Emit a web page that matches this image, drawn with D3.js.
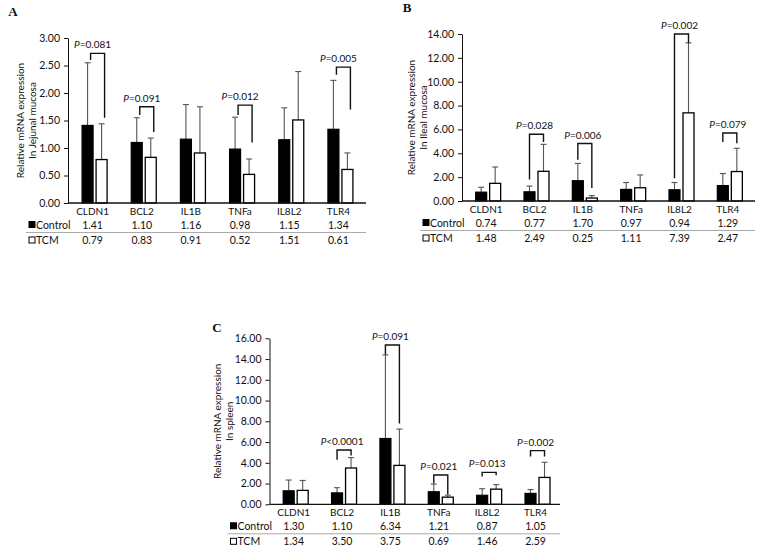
<!DOCTYPE html>
<html>
<head>
<meta charset="utf-8">
<script src="https://cdn.jsdelivr.net/npm/d3@7"></script>
<style>
    body { margin: 0; background: #fff; }
    svg text { font-family: Lato, "Open Sans", sans-serif; fill: #111; }
    .plabel { font-family: "Liberation Serif", serif; font-weight: bold; font-size: 13px; }
</style>
</head>
<body>
<svg id="fig" width="767" height="554"></svg>
<script>
/* global d3 */

var genes = ["CLDN1", "BCL2", "IL1B", "TNFa", "IL8L2", "TLR4"];

// jejunal mucosa (A)
var jejControl = [1.41, 1.10, 1.16, 0.98, 1.15, 1.34];
var jejTCM = [0.79, 0.83, 0.91, 0.52, 1.51, 0.61];
var jejControlSD = [1.14, 0.45, 0.63, 0.58, 0.58, 0.89];
var jejTCMSD = [0.65, 0.35, 0.84, 0.28, 0.88, 0.30];
var jejTicks = [0, 0.5, 1, 1.5, 2, 2.5, 3];
// [gene index, p text, top, left leg end, right leg end]
var jejP = [
    [0, "=0.081", 2.72, 2.60, 1.55],
    [1, "=0.091", 1.75, 1.60, 1.29],
    [3, "=0.012", 1.78, 1.60, 1.10],
    [5, "=0.005", 2.47, 2.33, 1.70]
];

// ileal mucosa (B)
var ileControl = [0.74, 0.77, 1.70, 0.97, 0.94, 1.29];
var ileTCM = [1.48, 2.49, 0.25, 1.11, 7.39, 2.47];
var ileControlSD = [0.41, 0.48, 1.45, 0.58, 0.61, 1.01];
var ileTCMSD = [1.37, 2.26, 0.20, 1.07, 5.86, 1.95];
var ileTicks = [0, 2, 4, 6, 8, 10, 12, 14];
var ileP = [
    [1, "=0.028", 5.60, 1.80, 4.95],
    [2, "=0.006", 4.82, 3.45, 1.10],
    [4, "=0.002", 14.0, 1.90, 13.25],
    [5, "=0.079", 5.70, 4.95, 4.85]
];

// spleen (C)
var splControl = [1.30, 1.10, 6.34, 1.21, 0.87, 1.05];
var splTCM = [1.34, 3.50, 3.75, 0.69, 1.46, 2.59];
var splControlSD = [1.04, 0.50, 8.06, 0.74, 0.63, 0.37];
var splTCMSD = [0.96, 1.00, 3.50, 0.19, 0.44, 1.46];
var splTicks = [0, 2, 4, 6, 8, 10, 12, 14, 16];
var splP = [
    [1, "<0.0001", 5.23, 4.30, 4.70],
    [2, "=0.091", 15.35, 14.45, 7.80],
    [3, "=0.021", 2.82, 2.00, 0.95],
    [4, "=0.013", 3.08, 2.67, 2.80],
    [5, "=0.002", 5.17, 4.60, 4.60]
];

var svg = d3.select("#fig");

function panel(cfg) {
    var g = svg.append("g");

    var x = d3.scaleBand().domain(genes).range([cfg.x0, cfg.x1]);
    var y = d3.scaleLinear().domain([0, cfg.ticks[cfg.ticks.length - 1]])
        .range([cfg.yBottom, cfg.yTop]);
    var bw = x.bandwidth();
    function cx(gene) { return x(gene) + bw / 2; }

    // panel letter
    g.append("text").attr("class", "plabel")
        .attr("x", cfg.labelX).attr("y", cfg.labelY)
        .attr("text-anchor", "middle").attr("dominant-baseline", "central")
        .text(cfg.label);

    // y axis
    var yAxis = g.append("g")
        .attr("transform", "translate(" + cfg.x0 + ",0)")
        .call(d3.axisLeft(y).tickValues(cfg.ticks).tickFormat(d3.format(".2f"))
            .tickSize(4).tickPadding(4).tickSizeOuter(0));
    yAxis.selectAll("text").style("font-size", "10.5px").style("font-family", "Lato, sans-serif");
    yAxis.selectAll("line, path").attr("stroke", "#111");

    // y title, two lines
    var ty = (cfg.yTop + cfg.yBottom) / 2;
    [["Relative mRNA expression", cfg.titleX[0]], [cfg.title2, cfg.titleX[1]]].forEach(function(t) {
        g.append("text")
            .attr("transform", "translate(" + (cfg.x0 + t[1]) + "," + ty + ") rotate(-90)")
            .attr("text-anchor", "middle")
            .style("font-size", "10px")
            .text(t[0]);
    });

    // bars
    var rows = genes.map(function(d, i) {
        return { gene: d, c: cfg.control[i], t: cfg.tcm[i], cs: cfg.controlSD[i], ts: cfg.tcmSD[i] };
    });

    var barW = 11;
    function ctrlX(d) { return cx(d.gene) - 10.5; }
    function tcmX(d) { return cx(d.gene) + 3.5; }

    // error bars first (drawn behind bars)
    var err = g.append("g").attr("stroke", "#555").attr("stroke-width", 1.1);
    rows.forEach(function(d) {
        [[ctrlX(d) + barW / 2, d.c, d.cs], [tcmX(d) + barW / 2, d.t, d.ts]].forEach(function(e) {
            err.append("line").attr("x1", e[0]).attr("x2", e[0])
                .attr("y1", y(e[1])).attr("y2", y(e[1] + e[2]));
            err.append("line").attr("x1", e[0] - 3).attr("x2", e[0] + 3)
                .attr("y1", y(e[1] + e[2])).attr("y2", y(e[1] + e[2]));
        });
    });

    g.selectAll(".bar-c").data(rows).enter().append("rect")
        .attr("x", ctrlX).attr("width", barW)
        .attr("y", function(d) { return y(d.c); })
        .attr("height", function(d) { return y(0) - y(d.c); })
        .attr("fill", "#000").attr("stroke", "#000").attr("stroke-width", 1.2);

    g.selectAll(".bar-t").data(rows).enter().append("rect")
        .attr("x", tcmX).attr("width", barW)
        .attr("y", function(d) { return y(d.t); })
        .attr("height", function(d) { return y(0) - y(d.t); })
        .attr("fill", "#fff").attr("stroke", "#000").attr("stroke-width", 1.3);

    // x axis line
    g.append("line").attr("x1", cfg.x0).attr("x2", cfg.axisEnd)
        .attr("y1", y(0)).attr("y2", y(0))
        .attr("stroke", "#111").attr("stroke-width", 1.3);

    // p-value brackets
    cfg.pvals.forEach(function(p) {
        var gene = genes[p[0]];
        var lx = cx(gene) - 5 + cfg.legShift;
        var rx = cx(gene) + 9 + cfg.legShift;
        g.append("path")
            .attr("d", "M" + lx + "," + y(p[3]) + "V" + y(p[2]) + "H" + rx + "V" + y(p[4]))
            .attr("fill", "none").attr("stroke", "#111").attr("stroke-width", 1.4);
        var t = g.append("text").attr("x", cx(gene)).attr("y", y(p[2]) - 5)
            .attr("text-anchor", "middle").style("font-size", "10px");
        t.append("tspan").style("font-style", "italic").text("P");
        t.append("tspan").text(p[1]);
    });

    // table under the axis
    var y0 = y(0);
    g.selectAll(".cat").data(genes).enter().append("text")
        .attr("x", cx).attr("y", y0 + 8)
        .attr("text-anchor", "middle").attr("dominant-baseline", "central")
        .style("font-size", "10px").text(function(d) { return d; });

    [["Control", cfg.control, y0 + 21.5, "#000"], ["TCM", cfg.tcm, y0 + 37, "#fff"]].forEach(function(r) {
        g.append("rect").attr("x", cfg.x0 - 39).attr("y", r[2] - 3).attr("width", 6).attr("height", 6)
            .attr("fill", r[3]).attr("stroke", "#000").attr("stroke-width", 1);
        g.append("text").attr("x", cfg.x0 - 32).attr("y", r[2])
            .attr("dominant-baseline", "central").style("font-size", "10.5px").text(r[0]);
        g.selectAll(null).data(r[1]).enter().append("text")
            .attr("x", function(d, i) { return cx(genes[i]); }).attr("y", r[2])
            .attr("text-anchor", "middle").attr("dominant-baseline", "central")
            .style("font-size", "10.5px").text(d3.format(".2f"));
    });

    g.append("line").attr("x1", cfg.x0 - 42).attr("x2", cfg.axisEnd)
        .attr("y1", y0 + 29.5).attr("y2", y0 + 29.5)
        .attr("stroke", "#aaa").attr("stroke-width", 1);
}

panel({
    label: "A", labelX: 13, labelY: 11,
    x0: 68, x1: 363, axisEnd: 366, yTop: 38, yBottom: 203,
    ticks: jejTicks, title2: "In Jejunal mucosa", titleX: [-44, -32], legShift: 3,
    control: jejControl, tcm: jejTCM, controlSD: jejControlSD, tcmSD: jejTCMSD, pvals: jejP
});

panel({
    label: "B", labelX: 407, labelY: 7,
    x0: 462, x1: 752, axisEnd: 755, yTop: 34, yBottom: 201,
    ticks: ileTicks, title2: "In Ileal mucosa", titleX: [-47, -35.5], legShift: 0,
    control: ileControl, tcm: ileTCM, controlSD: ileControlSD, tcmSD: ileTCMSD, pvals: ileP
});

panel({
    label: "C", labelX: 217, labelY: 327,
    x0: 269.5, x1: 559.7, axisEnd: 560, yTop: 338.3, yBottom: 504.3,
    ticks: splTicks, title2: "In spleen", titleX: [-48.5, -37], legShift: 0,
    control: splControl, tcm: splTCM, controlSD: splControlSD, tcmSD: splTCMSD, pvals: splP
});
</script>
</body>
</html>
